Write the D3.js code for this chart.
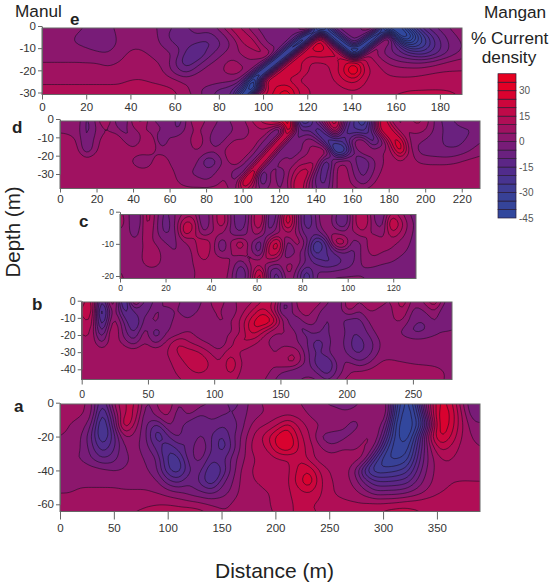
<!DOCTYPE html>
<meta charset="utf-8">
<style>
body { margin: 0; background: #fff; overflow: hidden; }
text { font-family: "Liberation Sans", Arial, sans-serif; fill: #222; }
.axis text { fill: #333; }
.axis line, .axis path { stroke: #666; stroke-width: 1px; }
.iso { fill: none; stroke: #1c1024; stroke-width: 0.65px; stroke-opacity: 0.9; }
</style>
<svg width="553" height="586"></svg>
<script src="https://d3js.org/d3.v7.min.js"></script>
<script>
// grids are rows top to bottom (% current density)
// the black diagonals in e are too dense to read, so their lows are a guess past the colour bar
const gridE = [
[0,1,2,1,0,-2,-1,1,4,3, 1,-2,-6,-5,-3,-2,2,14,8,1, -3,-4,-5,-3,24,-65,-4,-3,-2,3, 10,-65,-60,-30,-12,-6,-1,2,3],
[0,0,1,0,-1,-3,-3,1,5,6, 2,-3,-9,-7,-5,-8,-3,3,16,6, -1,-3,-3,-4,-65,28,-65,-4,-3,-1, -65,14,-65,-60,-30,-14,-6,0,2],
[1,1,1,0,-1,-3,-3,1,4,4, 2,-1,-5,-8,-12,-12,-6,0,8,16, 0,-1,-2,-65,28,28,18,-65,-5,-65, 14,-2,-14,-40,-32,-18,-8,-2,1],
[3,3,3,3,2,1,0,3,6,6, 4,2,-1,-12,-18,-8,-1,2,6,6, 14,2,-65,28,22,26,22,18,-65,12, 4,-3,-8,-14,-18,-14,-7,-1,2],
[5,5,5,5,5,5,4,5,7,8, 6,4,-5,-15,-8,-1,2,8,3,5, 2,-65,26,22,14,14,16,22,32,15, 10,4,1,0,0,2,5,7,8],
[7,7,7,7,7,7,6,7,8,9, 8,5,-3,-8,-1,3,4,8,6,0, -65,24,22,24,14,12,15,25,42,18, 12,9,8,8,8,9,10,10,10],
[9,9,9,9,9,9,9,9,10,10, 9,7,6,3,4,4,3,2,-1,-65, 26,24,20,14,12,12,14,20,24,15, 12,11,11,11,12,13,13,13,13],
[11,11,11,11,11,11,11,11,12,12, 12,12,10,6,1,-3,-6,-8,-25,-65, 18,25,32,20,15,12,12,14,15,14, 13,13,14,15,15,15,15,15,14],
[13,13,13,13,13,13,13,14,14,14, 14,13,11,8,3,-3,-8,-6,-65,22, 20,30,38,20,14,14,14,14,14,14, 14,15,16,16,16,16,16,15,15]
];
const gridD = [
[-1,0,5,-8,1,15,0,-8,8,15, 0,-2,2,-10,3,12,4,1,-2,3, 4,12,18,25,30,36,-25,-30,-5,15, 28,-5,-20,-35,-10,30,6,4,10,14, 6,-3,-8,-3,4,-3,-7],
[4,3,3,-8,0,5,3,-3,4,6, 4,1,-2,-6,3,6,2,-1,-5,0, 2,6,10,6,-20,40,-10,-10,-25,-5, 25,-15,-22,-25,-5,28,25,4,5,7, 5,-3,-6,-8,-7,-4,-3],
[8,8,5,-7,3,8,13,6,-3,6, 14,-8,1,5,3,12,2,-6,1,6, 5,7,6,-15,40,-12,-3,5,0,-28, -20,-15,5,6,-18,-6,25,28,3,1, -2,-4,-6,-8,-5,-2,0],
[9,9,7,-6,4,9,9,9,8,9, 7,2,3,3,4,5,3,2,6,9, 8,8,-15,40,-15,2,-4,5,8,12, -40,-35,-5,8,3,5,8,34,8,-2, -3,-4,-5,-4,-2,1,3],
[9,9,9,9,9,9,9,9,3,-3, 2,14,4,3,4,0,-12,-8,2,12, 6,-14,40,-14,5,-3,8,6,12,-22, 4,6,-3,-14,-2,4,8,8,7,4, 3,3,3,4,6,7,8],
[9,9,9,9,9,9,9,9,9,8, 8,9,8,2,0,-1,-3,0,5,-2, -12,40,-15,6,-8,6,15,22,-8,-14, 6,9,-2,-8,-1,6,9,9,9,9, 9,9,9,9,9,9,9],
[9,9,9,9,9,9,9,9,9,9, 9,9,9,4,1,1,0,2,7,-3, 36,15,-15,3,-3,8,25,6,-10,-12, 6,8,2,-5,4,8,9,9,9,9, 9,9,9,9,9,9,9],
[9,9,9,9,9,9,9,9,9,9, 9,9,9,9,9,9,9,9,8,2, 15,3,0,2,0,4,25,4,-5,-8, 6,7,8,8,8,8,5,2,5,8, 9,9,9,9,9,9,9]
];
const gridC = [
[8,1,-8,16,2,-8,1,5,8,-8, 6,16,-3,-12,2,20,-10,-5,28,0, -15,-4,8,-3,-12,8,18,0,-6,12, 6,-1,-3],
[12,1,-8,15,1,-10,0,20,16,-9, 5,18,-2,-14,4,22,-14,2,32,2, -18,-5,8,-6,-14,8,20,2,-6,28, 14,2,-3],
[3,1,-4,12,1,-8,-2,22,12,-3, 6,6,-3,-6,3,10,-6,4,12,2, -10,-8,2,4,1,5,10,4,2,16, 10,1,-3],
[2,1,1,8,4,0,-1,4,8,16, 8,-10,8,20,2,-14,18,30,-8,12, -2,-30,-18,16,18,-4,0,14,7,7, 3,0,-3],
[2,1,1,9,9,1,0,1,6,18, 6,-3,5,8,3,-12,22,20,-10,3, -8,-25,-15,-10,-6,-8,3,7,5,4, 1,-1,-3],
[3,2,2,8,8,2,1,1,6,9, 10,9,4,-6,8,8,4,1,6,4, -6,-12,-18,-15,-10,-6,2,3,1,0, -2,-3,-4],
[6,3,2,2,2,2,2,2,4,9, 10,10,2,-14,2,30,-8,-14,10,-4, -22,-4,-3,-3,-3,-2,-2,-3,-4,-4, -4,-4,-4],
[8,3,2,2,2,2,2,2,5,9, 10,8,1,-12,5,28,-5,-14,5,-4, -22,-3,-2,3,3,3,3,-2,-4,-4, -4,-4,-4]
];
const gridB = [
[8,22,-25,22,-35,20,-8,-5,2,3, -5,-3,5,8,2,8,8,15,20,-10, 5,12,8,4,-8,12,4,14,8,4, 16,2,6,20,-2,-3],
[14,25,-38,8,-18,-8,-10,2,-3,1, -6,1,4,6,0,8,15,25,12,-12, 4,8,3,-6,-4,8,-1,6,2,4, 12,-3,-1,6,-6,-3],
[12,18,-30,12,-4,-20,-3,2,-5,4, 1,5,1,6,4,12,25,32,28,3, -10,5,0,-6,-2,-8,-8,2,2,5, 6,-4,-6,1,-5,-2],
[10,12,-18,16,-2,-14,5,-14,0,-1, 5,3,-2,4,3,10,25,15,4,7, 2,-10,-3,-8,6,-10,-10,-2,3,2, -2,-7,-6,-2,0,1],
[8,10,-5,10,3,-6,6,-4,6,16, 10,6,4,-2,8,20,14,6,3,4, 0,-3,-16,-8,0,-10,-12,-8,1,3, 3,3,3,3,3,3],
[7,9,8,9,9,9,9,9,9,16, 18,17,10,6,15,8,4,12,4,8, 12,-2,-12,-6,2,-9,-12,-7,2,3, 3,3,3,3,3,3],
[8,9,9,9,9,9,9,9,9,11, 17,19,16,9,22,10,6,9,5,10, 13,-1,-14,-20,-3,2,-5,0,6,6, 5,4,4,4,4,3],
[9,9,9,9,9,9,9,9,9,10, 13,16,14,10,18,8,6,8,3,-3, -8,-5,-3,-14,-3,5,7,8,8,8, 9,9,8,7,5,3],
[9,9,9,9,9,9,9,9,9,9, 10,10,10,10,10,9,7,5,0,-6, -2,12,2,-3,4,8,9,9,9,9, 9,9,9,8,4,3]
];
const gridA = [
[5,7,8,2,-18,5,15,18,-3,6, 12,-2,9,2,0,-3,-8,-3,4,6, 6,7,5,3,0,-1,0,-2,1,0, 5,-30,-45,-20,10,28,22,5,-6,-2],
[6,6,6,3,-26,-2,16,16,-6,3, 8,-4,2,-6,-3,-4,-5,-1,3,5, 8,8,8,4,2,2,0,2,1,2, 6,-35,-45,-30,8,30,25,9,-5,-1],
[8,5,3,-4,-30,-8,24,8,-5,-15, 2,-3,-10,-8,-6,-10,-9,0,8,10, 14,24,14,8,5,5,3,-3,1,4, -5,-40,-45,-35,-5,30,24,10,1,0],
[5,4,1,-10,-28,-14,6,4,-4,-22, -12,-2,-12,-2,-10,-18,-6,3,12,18, 28,32,18,10,-2,-4,-3,2,5,6, -15,-40,-45,-20,12,28,20,9,4,3],
[3,2,1,-8,-20,-12,0,2,-3,-12, -20,-12,-8,2,-10,-20,-8,4,14,14, 26,32,20,12,6,1,5,4,6,0, -28,-40,-38,-16,4,18,14,8,6,5],
[2,0,0,-5,-10,-8,-1,1,0,-4, -22,-24,-6,-2,-15,-12,-2,5,10,12, 14,14,20,12,7,8,8,7,6,-22, -35,-36,-32,-12,2,10,10,8,7,6],
[1,2,3,3,2,0,0,2,1,-4, -20,-25,-10,-8,-22,-16,-2,8,11,12, 11,13,22,26,14,9,8,2,-20,-30, -28,-26,-22,-8,3,8,9,9,8,7],
[3,3,4,4,4,4,3,3,3,1, -8,-12,-6,-12,-22,-6,0,8,10,12, 10,14,24,32,16,10,8,4,-6,-14, -15,-14,-12,-3,4,8,10,10,10,10],
[5,5,6,6,6,6,6,6,6,5, 3,1,-2,-4,-6,-3,2,8,6,10, 11,14,18,20,16,10,9,7,3,-3, -2,-2,0,3,7,10,11,12,13,14],
[7,7,8,8,8,8,8,8,9,10, 10,9,8,7,5,4,6,8,5,9, 12,14,16,15,14,12,11,11,11,12, 12,13,14,14,14,14,14,14,14,14],
[9,9,10,10,10,10,10,11,13,14, 15,15,16,14,10,6,3,8,6,7, 11,14,16,16,15,14,13,13,14,15, 18,19,18,16,14,14,14,14,14,14]
];

const ticksXE = d3.range(0, 181, 20), ticksYE = [0, -10, -20, -30];
const ticksXD = d3.range(0, 221, 20), ticksYD = [0, -10, -20, -30];
const ticksXC = d3.range(0, 121, 20), ticksYC = [0, -10, -20];
const ticksXB = d3.range(0, 251, 50), ticksYB = [0, -10, -20, -30, -40];
const ticksXA = d3.range(0, 351, 50), ticksYA = [0, -20, -40, -60];

const legendLevels = d3.range(-45, 40, 5);
const legendTicks = [-45, -30, -15, 0, 15, 30];

const color = d3.scaleLinear()
  .domain([-45, -30, -15, 0, 5, 15, 30, 40])
  .range(["#30489e", "#3a4096", "#55288a", "#7f1a74", "#981466", "#b80c50", "#e00028", "#e8001f"])
  .clamp(true);

const panels = [
  {name: "e", grid: gridE, ticksX: ticksXE, ticksY: ticksYE, xMax: 190, left: 42, right: 462, top: 28, bottom: 94.5,
   y0: 26, y1: 92.5, yEnd: -30, tick: 5, pad: 3, font: 11.5, lx: 70, ly: 25},
  {name: "d", grid: gridD, ticksX: ticksXD, ticksY: ticksYD, xMax: 230, left: 60, right: 480, top: 121, bottom: 188.5,
   y0: 119, y1: 174, yEnd: -30, tick: 4, pad: 2, font: 11.5, lx: 12, ly: 133},
  {name: "c", grid: gridC, ticksX: ticksXC, ticksY: ticksYC, xMax: 130, left: 120, right: 416, top: 214.5, bottom: 278.5,
   y0: 211.7, y1: 276, yEnd: -20, tick: 4, pad: 2, font: 8.5, lx: 79, ly: 227},
  {name: "b", grid: gridB, ticksX: ticksXB, ticksY: ticksYB, xMax: 279.5, left: 81.7, right: 452, top: 302, bottom: 379.5,
   y0: 300.7, y1: 369.3, yEnd: -40, tick: 5, pad: 6, font: 10.5, lx: 32, ly: 310},
  {name: "a", grid: gridA, ticksX: ticksXA, ticksY: ticksYA, xMax: 390, left: 60, right: 480, top: 404, bottom: 511.5,
   y0: 402.7, y1: 504.3, yEnd: -60, tick: 8, pad: 4, font: 11.5, lx: 14, ly: 412}
];

const svg = d3.select("svg");
const levels = d3.range(-80, 50, 5);
const upsample = 4;

// finer mesh for contouring. each cell is split along the diagonal with the closest
// corner values, so the slanted ridges and troughs stay joined up instead of beading
function cellValue(tl, tr, bl, br, fx, fy) {
  if (Math.abs(tr - bl) <= Math.abs(tl - br)) {
    if (fx + fy <= 1) return tl + fx * (tr - tl) + fy * (bl - tl);
    return br + (1 - fx) * (bl - br) + (1 - fy) * (tr - br);
  }
  if (fx >= fy) return tr + (1 - fx) * (tl - tr) + fy * (br - tr);
  return bl + fx * (br - bl) + (1 - fy) * (tl - bl);
}

function smoothGrid(grid) {
  const rows = grid.length, cols = grid[0].length;
  const w = (cols - 1) * upsample + 1, h = (rows - 1) * upsample + 1;
  const data = new Float64Array(w * h);
  for (let j = 0; j < h; j++) {
    const r = Math.min(Math.floor(j / upsample), rows - 2), fy = j / upsample - r;
    for (let i = 0; i < w; i++) {
      const c = Math.min(Math.floor(i / upsample), cols - 2), fx = i / upsample - c;
      data[j * w + i] = cellValue(grid[r][c], grid[r][c + 1], grid[r + 1][c], grid[r + 1][c + 1], fx, fy);
    }
  }
  d3.blur2({data: data, width: w, height: h}, 1);
  return {data: data, w: w, h: h};
}

panels.forEach(function(p) {
  const x = d3.scaleLinear().domain([0, p.xMax]).range([p.left, p.right]);
  const y = d3.scaleLinear().domain([0, p.yEnd]).range([p.y0, p.y1]);

  const s = smoothGrid(p.grid);
  // push the grid edge just outside the clip so no contour runs along the frame
  const gx = d3.scaleLinear().domain([1, s.w - 2]).range([p.left, p.right]);
  const gy = d3.scaleLinear().domain([1, s.h - 2]).range([p.top, p.bottom]);
  const path = d3.geoPath(d3.geoTransform({
    point: function(a, b) { this.stream.point(gx(a), gy(b)); }
  }));

  const bands = d3.contours().size([s.w, s.h]).thresholds(levels)(s.data);

  const clipId = "clip-" + p.name;
  svg.append("clipPath").attr("id", clipId).append("rect")
    .attr("x", p.left).attr("y", p.top)
    .attr("width", p.right - p.left).attr("height", p.bottom - p.top);

  const g = svg.append("g").attr("clip-path", "url(#" + clipId + ")");
  g.selectAll("path.band").data(bands).join("path")
    .attr("class", "band")
    .attr("d", path)
    .attr("fill", d => color(d.value + 2.5));
  g.selectAll("path.iso").data(bands).join("path")
    .attr("class", "iso")
    .attr("d", path);

  svg.append("rect")
    .attr("x", p.left).attr("y", p.top)
    .attr("width", p.right - p.left).attr("height", p.bottom - p.top)
    .attr("fill", "none").attr("stroke", "#666").attr("stroke-width", 1);

  const ax = svg.append("g").attr("class", "axis")
    .attr("transform", `translate(0,${p.bottom})`)
    .call(d3.axisBottom(x).tickValues(p.ticksX).tickFormat(d3.format("d")).tickSize(p.tick).tickPadding(p.pad));
  ax.select(".domain").remove();
  ax.selectAll("text").attr("font-size", p.font).attr("font-family", null);

  const ay = svg.append("g").attr("class", "axis")
    .attr("transform", `translate(${p.left},0)`)
    .call(d3.axisLeft(y).tickValues(p.ticksY).tickFormat(d => d === 0 ? "0" : "-" + Math.abs(d)).tickSize(4).tickSizeOuter(0).tickPadding(2));
  ay.selectAll("text").attr("font-size", p.font).attr("font-family", null);

  svg.append("text").attr("x", p.lx).attr("y", p.ly)
    .attr("font-size", 17).attr("font-weight", "bold").text(p.name);
});

// legend
const legendY = d3.scaleLinear().domain([-45, 30]).range([218, 90.7]);
const bandH = legendY(-45) - legendY(-40);
svg.append("g").selectAll("rect").data(legendLevels).join("rect")
  .attr("x", 498).attr("width", 18)
  .attr("y", d => legendY(d + 5))
  .attr("height", bandH)
  .attr("fill", d => color(d + 2.5))
  .attr("stroke", "#2a1a34").attr("stroke-width", 0.7);
const la = svg.append("g").attr("class", "axis")
  .attr("transform", "translate(516,0)")
  .call(d3.axisRight(legendY).tickValues(legendTicks).tickFormat(d => d).tickSize(0).tickPadding(3));
la.select(".domain").remove();
la.selectAll("text").attr("font-size", 10).attr("font-family", null).style("fill", "#555");

// titles
function label(txt, xp, yp, size, anchor) {
  return svg.append("text").attr("x", xp).attr("y", yp).attr("font-size", size)
    .attr("text-anchor", anchor || "start").text(txt);
}
label("Manul", 15, 17, 17.2);
label("Mangan", 484, 17.5, 17.2);
label("% Current", 471, 44, 17.2);
label("density", 509, 63, 17.2, "middle");
label("Distance (m)", 215, 578, 21);
label("Depth (m)", 0, 0, 20.5, "middle").attr("transform", "translate(20,232) rotate(-90)");
</script>
